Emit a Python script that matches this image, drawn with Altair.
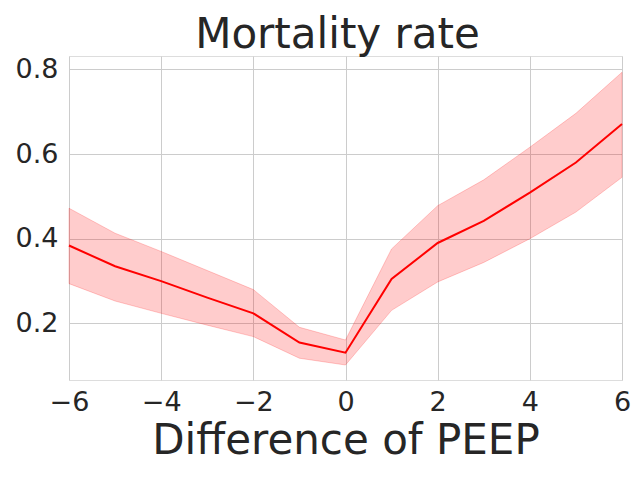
import altair as alt
import pandas as pd

peep_diff = [-6, -5, -4, -3, -2, -1, 0, 1, 2, 3, 4, 5, 6]
mortality = [0.384, 0.335, 0.300, 0.261, 0.224, 0.155, 0.131, 0.305, 0.390, 0.442, 0.509, 0.580, 0.671]
upper = [0.472, 0.413, 0.370, 0.325, 0.280, 0.191, 0.161, 0.376, 0.478, 0.539, 0.616, 0.696, 0.793]
lower = [0.294, 0.253, 0.224, 0.196, 0.169, 0.118, 0.102, 0.231, 0.298, 0.344, 0.400, 0.463, 0.545]

df = pd.DataFrame({"x": peep_diff, "y": mortality, "lo": lower, "hi": upper})

FONT = "DejaVu Sans"
TXT = "#262626"

xscale = alt.Scale(domain=[-6, 6], nice=False, zero=False)
yscale = alt.Scale(domain=[0.0666, 0.8313], nice=False, zero=False)

xaxis = alt.Axis(
    title="Difference of PEEP",
    values=[-6, -4, -2, 0, 2, 4, 6],
    format="d",
    labelExpr="replace(datum.label, '-', '\u2212')",
    grid=True, gridColor="#cccccc", gridWidth=1,
    ticks=False, domain=False, labelFlush=False, labelOverlap=False,
    labelFont=FONT, labelFontSize=27, labelColor=TXT, labelPadding=9,
    titleFont=FONT, titleFontSize=42, titleColor=TXT, titleFontWeight="normal",
    titlePadding=5,
)
yaxis = alt.Axis(
    title=None,
    values=[0.2, 0.4, 0.6, 0.8],
    format=".1f",
    grid=True, gridColor="#cccccc", gridWidth=1,
    ticks=False, domain=False, labelFlush=False, labelOverlap=False,
    labelFont=FONT, labelFontSize=27, labelColor=TXT, labelPadding=11,
)

band = alt.Chart(df).mark_area(
    color="red", fillOpacity=0.2, stroke="red", strokeOpacity=0.2, strokeWidth=1
).encode(
    x=alt.X("x:Q", scale=xscale, axis=xaxis),
    y=alt.Y("lo:Q", scale=yscale, axis=yaxis),
    y2="hi:Q",
)

line = alt.Chart(df).mark_line(color="red", strokeWidth=2).encode(
    x=alt.X("x:Q", scale=xscale),
    y=alt.Y("y:Q", scale=yscale),
)

chart = (band + line).properties(
    width=553,
    height=324,
    title=alt.TitleParams(
        "Mortality rate", font=FONT, fontSize=42, color=TXT,
        fontWeight="normal", anchor="middle", baseline="alphabetic",
        offset=8, dy=43, dx=-8,
    ),
    autosize=alt.AutoSizeParams(type="none"),
    padding={"left": 61, "top": 48, "right": 10, "bottom": 92},
).configure_view(
    stroke="#cccccc", strokeWidth=1.2
).configure(background="white")

chart.save("out.html", embed_options={"renderer": "svg", "actions": False})
